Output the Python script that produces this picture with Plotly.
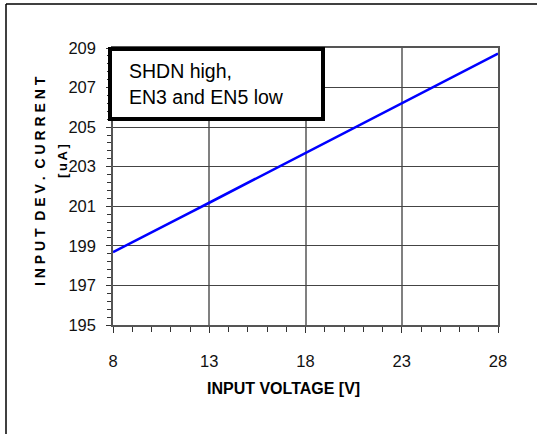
import plotly.graph_objects as go

# Data
voltage = [8, 9, 10, 11, 12, 13, 14, 15, 16, 17, 18, 19, 20, 21, 22, 23, 24, 25, 26, 27, 28]
current = [198.68, 199.17, 199.67, 200.18, 200.68, 201.18, 201.68, 202.18, 202.68, 203.18,
           203.68, 204.19, 204.70, 205.21, 205.71, 206.21, 206.68, 207.22, 207.72, 208.22, 208.72]
x_ticks = [8, 13, 18, 23, 28]
y_ticks = [195, 197, 199, 201, 203, 205, 207, 209]
note_lines = ["SHDN high,", "EN3 and EN5 low"]
x_title = "INPUT VOLTAGE [V]"
y_title = "INPUT DEV. CURRENT"
y_unit = "[uA]"

W, H = 537, 434
L, R, T, B = 113, 39, 48, 109
pw, ph = W - L - R, H - T - B

def px(xp):
    return (xp - L) / pw

def py(yp):
    return (H - B - yp) / ph

arial = "Liberation Sans, Arial, sans-serif"

fig = go.Figure()
fig.add_trace(go.Scatter(x=voltage, y=current, mode="lines",
                         line=dict(color="#0000FF", width=2.6), showlegend=False))

fig.update_layout(
    width=W, height=H,
    margin=dict(l=L, r=R, t=T, b=B),
    paper_bgcolor="white", plot_bgcolor="white",
    showlegend=False,
)

fig.update_xaxes(
    range=[8, 28], tickvals=x_ticks, ticktext=[str(v) for v in x_ticks],
    showgrid=True, gridcolor="#808080", gridwidth=1.6,
    showline=True, linecolor="#555555", linewidth=1.5, mirror=True,
    ticks="outside", ticklen=6, tickwidth=1.3, tickcolor="#333333",
    minor=dict(dtick=1, tick0=8, ticks="outside", ticklen=5, tickwidth=1.2,
               tickcolor="#333333", showgrid=False),
    tickfont=dict(family=arial, size=16.5, color="#111111"),
    ticklabelstandoff=14,
    zeroline=False,
)
fig.update_yaxes(
    range=[195, 209], tickvals=y_ticks, ticktext=[str(v) for v in y_ticks],
    showgrid=True, gridcolor="#444444", gridwidth=1.2,
    showline=True, linecolor="#555555", linewidth=1.5, mirror=True,
    ticks="outside", ticklen=5, tickwidth=1.2, tickcolor="#333333",
    minor=dict(dtick=0.4, tick0=195, ticks="outside", ticklen=4, tickwidth=1.1,
               tickcolor="#333333", showgrid=False),
    tickfont=dict(family=arial, size=16.5, color="#111111"),
    ticklabelstandoff=7,
    zeroline=False,
)

# outer frame (top and left edges visible)
fig.add_shape(type="line", xref="paper", yref="paper",
              x0=px(6), x1=px(W + 5), y0=py(4), y1=py(4),
              line=dict(color="black", width=1.5))
fig.add_shape(type="line", xref="paper", yref="paper",
              x0=px(6), x1=px(6), y0=py(4), y1=py(H + 5),
              line=dict(color="black", width=1.5))

# note box
fig.add_shape(type="rect", xref="paper", yref="paper",
              x0=px(110), x1=px(323), y0=py(49), y1=py(119),
              line=dict(color="black", width=4), fillcolor="white", layer="above")

nsp = "\u00a0"
fig.add_annotation(text=note_lines[0], xref="paper", yref="paper",
                   x=px(127), y=py(71), xanchor="left", yanchor="middle",
                   showarrow=False, font=dict(family=arial, size=19.5, color="black"))
fig.add_annotation(text=note_lines[1], xref="paper", yref="paper",
                   x=px(127), y=py(97), xanchor="left", yanchor="middle",
                   showarrow=False, font=dict(family=arial, size=19.5, color="black"))

# axis titles
fig.add_annotation(text="<b>" + x_title + "</b>", xref="paper", yref="paper",
                   x=px(283), y=py(388), xanchor="center", yanchor="middle",
                   showarrow=False, font=dict(family=arial, size=16, color="black"))

spaced = nsp.join(list(y_title)).replace(nsp + " " + nsp, nsp * 2)
fig.add_annotation(text="<b>" + spaced + "</b>", xref="paper", yref="paper",
                   x=px(40), y=py(181), xanchor="center", yanchor="middle",
                   textangle=-90, showarrow=False,
                   font=dict(family=arial, size=14, color="black"))
fig.add_annotation(text="<b>" + "\u2009".join(list(y_unit)) + "</b>", xref="paper", yref="paper",
                   x=px(62), y=py(161), xanchor="center", yanchor="middle",
                   textangle=-90, showarrow=False,
                   font=dict(family=arial, size=13, color="black"))

fig.write_html("out.html", config={"displayModeBar": False},
               post_script="document.body.style.margin='0px';document.body.style.overflow='hidden';")
